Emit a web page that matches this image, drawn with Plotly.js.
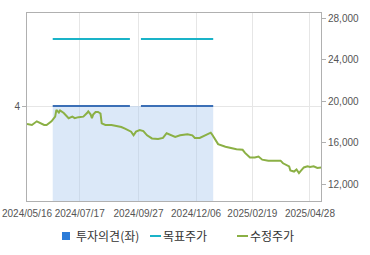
<!DOCTYPE html>
<html>
<head>
<meta charset="utf-8">
<script src="https://cdn.plot.ly/plotly-3.0.1.min.js"></script>
<style>
html,body{margin:0;padding:0;background:#fff;}
#chart{width:370px;height:255px;}
</style>
</head>
<body>
<div id="chart"></div>
<script>
// 수정주가 (adjusted price), sampled trading days
var priceDates = ['2024-05-16','2024-05-22','2024-05-28','2024-05-31','2024-06-05','2024-06-10','2024-06-12','2024-06-14',
  '2024-06-19','2024-06-20','2024-06-24','2024-06-25','2024-06-28','2024-07-01','2024-07-04','2024-07-09','2024-07-11',
  '2024-07-16','2024-07-22','2024-07-25','2024-07-26','2024-07-30','2024-07-31','2024-08-01','2024-08-05','2024-08-07',
  '2024-08-09','2024-08-12','2024-08-16','2024-08-23','2024-08-30','2024-09-04','2024-09-09','2024-09-12','2024-09-19',
  '2024-09-23','2024-09-25','2024-09-30','2024-10-07','2024-10-11','2024-10-17','2024-10-24','2024-10-30','2024-11-04',
  '2024-11-08','2024-11-13','2024-11-19','2024-11-27','2024-12-03','2024-12-05','2024-12-11','2024-12-18','2024-12-24',
  '2024-12-26','2025-01-02','2025-01-06','2025-01-14','2025-01-21','2025-01-31','2025-02-07','2025-02-11','2025-02-17',
  '2025-02-21','2025-02-26','2025-03-04','2025-03-11','2025-03-17','2025-03-25','2025-03-27','2025-04-03','2025-04-04',
  '2025-04-09','2025-04-11','2025-04-15','2025-04-16','2025-04-21','2025-04-24','2025-04-28','2025-05-02','2025-05-09',
  '2025-05-14'];
var priceValues = [17800,17700,18050,17900,17700,17700,17900,18050,
  18500,19150,18900,19100,18850,18700,18350,18500,18350,
  18450,18500,18850,19000,18700,18350,18700,18950,18950,
  18800,17850,17700,17700,17600,17500,17350,17200,17050,
  16700,17050,17200,17100,16700,16400,16350,16450,16900,
  16700,16550,16700,16800,16700,16450,16450,16700,16950,
  16800,16150,15850,15600,15450,15350,15300,15000,14550,
  14550,14650,14350,14250,14250,14250,14000,13700,13300,
  13200,13400,13050,13200,13600,13700,13650,13700,13550,
  13600];

// 투자의견 (left axis) and 목표주가 (right axis), two report periods
var opinionDates  = ['2024-06-17','2024-09-13',null,'2024-10-02','2024-12-27'];
var opinionValues = [4,4,null,4,4];
var targetValues  = [26000,26000,null,26000,26000];

// axis ticks
var xTickVals  = ['2024-05-16','2024-07-17','2024-09-27','2024-12-06','2025-02-19','2025-04-28'];
var xTickText  = ['2024/05/16','2024/07/17','2024/09/27','2024/12/06','2025/02/19','2025/04/28'];
var rightTicks = [12000,16000,20000,24000,28000];
var leftTicks  = [4];
var holidays = ['2024-06-06','2024-08-15','2024-09-16','2024-09-17','2024-09-18','2024-10-01','2024-10-03',
  '2024-10-09','2024-12-25','2024-12-31','2025-01-01','2025-01-27','2025-01-28','2025-01-29','2025-01-30',
  '2025-03-03','2025-05-01','2025-05-05','2025-05-06'];

var tickFont = {family:'"Liberation Sans", Arial, sans-serif', size:10, color:'#555'};

var traces = [
  {type:'scatter', mode:'lines', x:opinionDates, y:opinionValues, yaxis:'y', fill:'tozeroy',
   fillcolor:'rgba(175,203,240,0.45)', line:{color:'#3b6fb6', width:2}, connectgaps:false,
   showlegend:false, hoverinfo:'skip'},
  {type:'bar', x:[null], y:[null], yaxis:'y', name:'투자의견(좌)', marker:{color:'#2b7bd8'}},
  {type:'scatter', mode:'lines', x:opinionDates, y:targetValues, yaxis:'y2', name:'목표주가',
   line:{color:'#1ab3c8', width:2}, connectgaps:false},
  {type:'scatter', mode:'lines', x:priceDates, y:priceValues, yaxis:'y2', name:'수정주가',
   line:{color:'#8bb045', width:2}}
];

var layout = {
  width:370, height:255,
  margin:{l:27, r:49, t:13, b:54},
  paper_bgcolor:'#fff', plot_bgcolor:'#fff',
  showlegend:true,
  legend:{orientation:'h', x:36/370, xref:'container', xanchor:'left', y:1-236/255, yref:'container', yanchor:'middle',
    font:{family:'"Noto Sans CJK KR", sans-serif', size:12, color:'#333'},
    entrywidth:42, entrywidthmode:'pixels', tracegroupgap:0, itemwidth:30, borderwidth:0},
  xaxis:{type:'date', range:['2024-05-16','2025-05-14'], automargin:false,
    rangebreaks:[{bounds:['sat','mon']},{values:holidays}],
    tickvals:xTickVals, ticktext:xTickText, tickfont:tickFont, ticklabelstandoff:3,
    showgrid:true, gridcolor:'#e6e6e6', gridwidth:1,
    showline:true, linecolor:'#b0b0b0', linewidth:1, mirror:true, ticks:'', zeroline:false},
  yaxis:{range:[0,7.92], tickvals:leftTicks, ticktext:['4'], side:'left', automargin:false,
    showgrid:true, gridcolor:'#e6e6e6', zeroline:false,
    showline:true, linecolor:'#b0b0b0', ticks:'outside', ticklen:4, tickcolor:'#b0b0b0', tickfont:tickFont},
  yaxis2:{overlaying:'y', side:'right', range:[10360,28500], tickvals:rightTicks, tickformat:',', automargin:false,
    showgrid:false, zeroline:false, showline:true, linecolor:'#b0b0b0',
    ticks:'outside', ticklen:4, tickcolor:'#b0b0b0', tickfont:tickFont}
};

Plotly.newPlot('chart', traces, layout, {displayModeBar:false, staticPlot:true}).then(function(gd){
  // compact legend symbols like the original
  gd.querySelectorAll('.legend .traces').forEach(function(t){
    t.querySelectorAll('.legendlines path').forEach(function(p){ p.setAttribute('d','M27,0h11'); });
    t.querySelectorAll('.legendpoints path').forEach(function(p){
      p.setAttribute('d','M4,4H-4V-4H4Z'); p.setAttribute('transform','translate(30,0)');
    });
  });
});
</script>
</body>
</html>
